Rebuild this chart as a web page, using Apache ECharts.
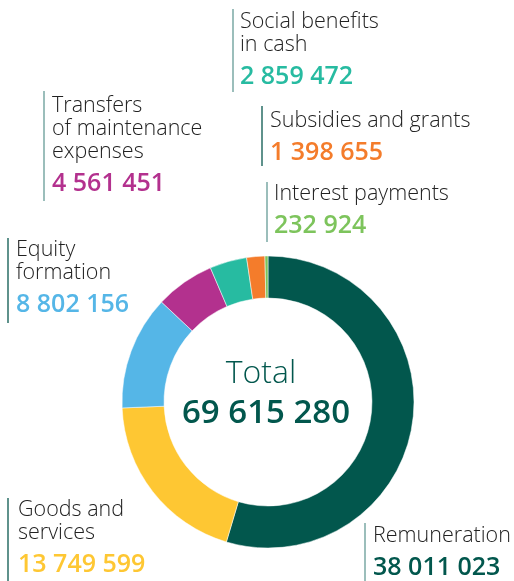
<!DOCTYPE html>
<html>
<head>
<meta charset="utf-8">
<script src="https://cdn.jsdelivr.net/npm/echarts@6/dist/echarts.min.js"></script>
<style>
  html, body { margin: 0; padding: 0; background: #fff; }
  #chart { width: 514px; height: 581px; }
</style>
</head>
<body>
<div id="chart"></div>
<script>
// Expenditure by category, clockwise from the top
const categories = [
  'Remuneration',
  'Goods and\nservices',
  'Equity\nformation',
  'Transfers\nof maintenance\nexpenses',
  'Social benefits\nin cash',
  'Subsidies and grants',
  'Interest payments'
];
const values = [38011023, 13749599, 8802156, 4561451, 2859472, 1398655, 232924];
const colors = ['#02574d', '#fec733', '#55b6e7', '#b3318e', '#27bba1', '#f47c2b', '#7dc45c'];

// Callout placement per category: [text x, first line centre y, rule x, rule top, rule bottom, rule colour]
const callouts = [
  [373, 536, 365, 523, 581, '#7aa9a4'],
  [18, 510, 8, 498, 581, '#2a6e66'],
  [16, 250, 8, 238, 323, '#2a6e66'],
  [52, 106, 44, 91, 201, '#7aa9a4'],
  [240, 22, 233, 9, 92, '#7aa9a4'],
  [270, 121, 262, 106, 166, '#2a6e66'],
  [274, 194, 267, 182, 242, '#7aa9a4']
];

const fontFamily = '"Open Sans", "Noto Sans", sans-serif';
const fmt = v => String(v).replace(/\B(?=(\d{3})+(?!\d))/g, ' ');
const total = values.reduce((a, b) => a + b, 0);

const graphic = [];
categories.forEach((name, i) => {
  const [tx, ty, lx, ly1, ly2, lc] = callouts[i];
  const lines = name.split('\n');
  graphic.push({
    type: 'line',
    shape: { x1: lx, y1: ly1, x2: lx, y2: ly2 },
    style: { stroke: lc, lineWidth: 1.5 }
  });
  lines.forEach((ln, k) => {
    graphic.push({
      type: 'text',
      x: tx, y: ty + k * 23,
      style: { text: ln, fill: '#222', font: '300 21.5px ' + fontFamily, verticalAlign: 'middle' }
    });
  });
  graphic.push({
    type: 'text',
    x: tx, y: ty + (lines.length - 1) * 23 + 32,
    style: { text: fmt(values[i]), fill: colors[i], font: '600 25px ' + fontFamily, verticalAlign: 'middle' }
  });
});

// Centre total
graphic.push({
  type: 'text', x: 261, y: 374,
  style: { text: 'Total', fill: '#02574d', font: '300 32px ' + fontFamily, align: 'center', verticalAlign: 'middle' }
});
graphic.push({
  type: 'text', x: 266, y: 414,
  style: { text: fmt(total), fill: '#02574d', font: '600 33px ' + fontFamily, align: 'center', verticalAlign: 'middle' }
});

const chart = echarts.init(document.getElementById('chart'), null, { renderer: 'canvas' });
chart.setOption({
  animation: false,
  graphic: graphic,
  series: [{
    type: 'pie',
    center: [268, 402],
    radius: [104, 146],
    startAngle: 90,
    clockwise: true,
    label: { show: false },
    labelLine: { show: false },
    itemStyle: { borderColor: '#fff', borderWidth: 0.5 },
    emphasis: { disabled: true },
    data: categories.map((c, i) => ({ name: c, value: values[i], itemStyle: { color: colors[i] } }))
  }]
});
</script>
</body>
</html>
